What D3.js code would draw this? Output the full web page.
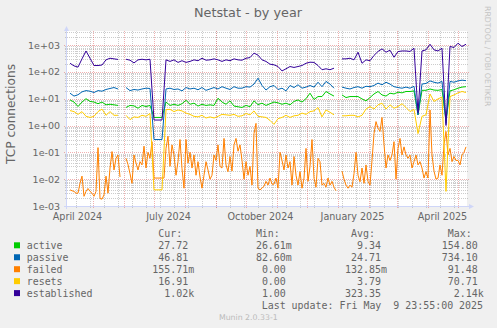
<!DOCTYPE html>
<html><head><meta charset="utf-8">
<script src="https://cdn.jsdelivr.net/npm/d3@7"></script>
<style>
html,body{margin:0;padding:0;background:#f0f0f0;}
svg{display:block;}
text{font-family:"DejaVu Sans",sans-serif;fill:#666666;}
.mono{font-family:"DejaVu Sans Mono",monospace;white-space:pre;}
</style></head><body>
<svg id="chart" width="497" height="328"></svg>
<script>
// ---- data ----
const timeStart = new Date(2024, 3, 4, 23, 55);
const timeEnd = new Date(2025, 4, 9, 23, 55);
const firstSample = new Date(2024, 3, 8);
const sampleStepDays = 4;        // active, passive, resets, established
const failedStepDays = 2;        // failed is sampled more densely

const active = [9,7.5,5.1,7.5,10,7.9,7.5,6.5,7.5,5.9,
 6.2,5.9,5.6,null,4.7,5.6,5.4,4.4,5.6,5.1,
 5.6,2.0,2.0,2.0,7.5,5.6,6.2,5.6,6.5,8.7,
 6.2,6.8,5.3,6.2,5.6,5.9,5.6,10.4,7.5,6.2,
 8.3,5.3,5,4.7,5.6,5,8.3,6,6.8,5.6,
 6.5,7.5,7,6.2,6.8,5.9,7.9,9,7.5,10,
 16,9.3,12,12,18.5,15,12.5,null,13.8,11,
 12,12,12,9.8,8.3,11,15,18.5,13.8,12.5,
 16,15,17.5,16.5,18.5,18.5,19.5,2.5,20.5,20.5,
 23,21,20.5,22,1.5,19.5,21.5,24.6,27,28];

const passive = [16,12.5,14,18,20,19,17,20,19,22,
 24,26,23,null,26,20,22,21,23,24.6,
 24,0.3,0.3,0.3,23,24.6,22,23,19.5,26,
 23,24.6,21.5,26,20.5,23,26,23,28,24.6,
 22,28,24.6,24.6,28,27,35,58,31,21,
 28,31,22,24.6,19.5,31,26,33,24.6,27,
 31,27,41,28,44,35,24.6,null,27,24.6,
 23,26,28,24.6,29,28,31,38,33,41,
 35,28,26,24.6,27,24.6,29,2.5,35,37,
 46,41,38,44,1.2,44,41,46,49,47];

const failed = [0.004,0.0037,0.0035,0.003,0.003,0.007,0.013,0.0023,0.0035,0.0045,
 0.0035,0.003,0.0023,0.0035,0.15,0.0019,0.0018,0.0026,0.013,0.003,
 0.026,0.107,0.022,0.06,0.08,0.012,null,null,0.06,0.035,
 0.016,0.007,0.08,0.04,0.022,0.045,0.034,0.17,0.026,0.1,
 0.06,0.25,0.011,0.011,0.011,0.011,0.011,0.011,0.14,0.4,
 0.03,0.19,0.08,0.014,0.045,0.3,0.025,0.0046,0.3,0.04,
 0.1,0.026,0.08,0.014,0.045,0.012,0.0046,0.014,0.045,0.022,
 0.01,0.014,0.08,0.05,0.19,0.03,0.026,0.33,0.034,0.019,
 0.07,0.02,0.19,0.33,0.11,0.19,0.05,0.01,0.045,0.014,
 0.03,0.006,0.5,1.2,0.0046,0.004,0.0046,0.0055,0.0083,0.006,
 0.011,0.0065,0.0065,0.011,0.0046,0.1,0.05,0.022,0.08,0.026,
 0.045,0.006,0.07,0.014,0.006,0.019,0.0046,0.011,0.14,0.0083,
 0.03,0.3,0.011,0.005,0.06,0.045,0.006,0.007,0.005,0.011,
 0.006,0.0083,0.005,0.0037,null,null,0.02,0.01,0.006,0.0046,
 0.006,0.005,0.016,0.1,0.014,0.008,0.026,0.007,0.034,0.0083,
 0.006,0.05,0.5,1.4,0.8,0.6,2.0,0.2,0.026,0.08,
 0.05,0.08,0.25,0.01,0.14,0.33,0.08,0.16,0.08,0.06,
 0.08,0.026,0.045,0.08,0.034,0.045,0.026,0.011,0.019,0.011,
 3.8,0.08,0.02,0.01,0.011,0.034,0.014,0.2,0.6,0.08,
 0.14,0.045,0.07,0.05,0.05,0.034,0.08,0.1,0.16];

const resets = [3.6,3.3,2.6,3.3,2.2,2.0,2.2,3.3,4.1,2.4,
 3.3,2.4,2.4,null,2.4,1.65,2.1,2.0,2.4,2.2,
 2.8,0.004,0.004,0.004,3.9,4.0,3.3,3.8,3.5,2.9,
 2.6,2.2,2.1,2.4,1.9,2.1,1.9,2.2,2.6,2.5,
 2.4,2.6,2.2,2.3,2.8,2.5,3.5,2.2,2.1,2.0,
 1.55,1.1,1.8,2.0,2.4,2.0,2.3,2.4,2.9,2.6,
 3.3,3.5,4.7,2.1,3.8,3.1,2.5,null,2.3,2.3,
 2.4,2.4,2.1,2.4,4.1,5.1,4.1,5.9,6.8,4.1,
 5.9,4.4,5.1,6.5,4.7,3.3,4.0,0.5,2.2,2.5,
 15,7.9,9.8,11.5,0.0035,12,13.8,16.5,18.5,17];

const established = [209,167,150,305,600,322,172,172,180,280,
 322,305,290,null,295,272,215,280,295,280,
 295,1.6,1.6,1.6,280,245,280,225,260,225,
 245,280,260,322,272,280,305,280,245,280,
 260,305,280,272,322,340,500,420,280,245,
 193,183,158,108,130,158,146,158,172,209,
 229,225,172,120,130,120,137,null,305,305,
 322,280,540,209,280,260,410,575,720,540,
 640,350,570,600,600,575,760,3,600,660,
 1070,660,600,760,1.0,880,810,1170,880,1070];

const seriesNames = ["active","passive","failed","resets","established"];
const seriesColors = ["#00CC00","#0066B3","#FF8000","#FFCC00","#330099"];
const seriesValues = [active, passive, failed, resets, established];
const seriesSteps = [sampleStepDays, sampleStepDays, failedStepDays, sampleStepDays, sampleStepDays];

const legendCur = ["27.72","46.81","155.71m","16.91","1.02k"];
const legendMin = ["26.61m","82.60m","0.00","0.00","1.00"];
const legendAvg = ["9.34","24.71","132.85m","3.79","323.35"];
const legendMax = ["154.80","734.10","91.48","70.71","2.14k"];

const yTickValues = [1e-3,1e-2,1e-1,1,10,100,1000];
const yTickLabels = ["1e-03","1e-02","1e-01","1e+00","1e+01","1e+02","1e+03"];
const xLabelMonths = [new Date(2024,3,1), new Date(2024,6,1), new Date(2024,9,1), new Date(2025,0,1), new Date(2025,3,1)];
const xLabelTexts = ["April 2024","July 2024","October 2024","January 2025","April 2025"];

const titleText = "Netstat - by year";
const unitText = "TCP connections";
const lastUpdateText = "Last update: Fri May  9 23:55:00 2025";
const versionText = "Munin 2.0.33-1";
const sideText = "RRDTOOL / TOBI OETIKER";

// ---- layout ----
const svg = d3.select("#chart");
const P = {left:67, right:467, top:31, bottom:206};
const decadePx = 26.83;
const yTop = Math.pow(10, -3 + (P.bottom - P.top) / decadePx);

const x = d3.scaleTime().domain([timeStart, timeEnd]).range([P.left, P.right]);
const y = d3.scaleLog().domain([1e-3, yTop]).range([P.bottom, P.top]).clamp(true);

svg.append("rect").attr("width",497).attr("height",328).attr("fill","#f0f0f0");
svg.append("rect").attr("x",P.left).attr("y",P.top).attr("width",P.right-P.left).attr("height",P.bottom-P.top).attr("fill","#ffffff");

const grid = svg.append("g").attr("shape-rendering","crispEdges");
const minorCol = "rgba(143,143,143,0.45)";
const majorCol = "rgba(222,79,79,0.45)";

for (let k=-3;k<=3;k++){
  for (let m=2;m<=9;m++){
    const v = m*Math.pow(10,k);
    if (v >= yTop) continue;
    const yy = Math.round(y(v))+0.5;
    grid.append("line").attr("x1",P.left-2).attr("x2",P.right+2).attr("y1",yy).attr("y2",yy)
      .attr("stroke",minorCol).attr("stroke-dasharray","1,1");
  }
}
d3.timeDay.range(new Date(2024,3,14), timeEnd, 14).forEach(d=>{
  const xx = Math.round(x(d))+0.5;
  grid.append("line").attr("x1",xx).attr("x2",xx).attr("y1",P.top).attr("y2",P.bottom+2)
    .attr("stroke",minorCol).attr("stroke-dasharray","1,1");
});
yTickValues.forEach(v=>{
  const yy = Math.round(y(v))+0.5;
  grid.append("line").attr("x1",P.left-3).attr("x2",P.right+3).attr("y1",yy).attr("y2",yy)
    .attr("stroke",majorCol).attr("stroke-dasharray","1,1");
});
d3.timeMonth.range(d3.timeMonth.ceil(timeStart), timeEnd).forEach(d=>{
  const xx = Math.round(x(d))+0.5;
  grid.append("line").attr("x1",xx).attr("x2",xx).attr("y1",P.top).attr("y2",P.bottom+3)
    .attr("stroke",majorCol).attr("stroke-dasharray","1,1");
});

// axes
const axisCol = "#CFD6F8";
svg.append("line").attr("x1",P.left-3).attr("x2",P.right+3).attr("y1",P.bottom+0.5).attr("y2",P.bottom+0.5).attr("stroke",axisCol).attr("shape-rendering","crispEdges");
svg.append("line").attr("x1",P.left-0.5).attr("x2",P.left-0.5).attr("y1",P.bottom+3).attr("y2",P.top-2).attr("stroke",axisCol).attr("shape-rendering","crispEdges");
svg.append("path").attr("d",`M${P.right+2},${P.bottom-2} L${P.right+7},${P.bottom+0.5} L${P.right+2},${P.bottom+3} Z`).attr("fill",axisCol);
svg.append("path").attr("d",`M${P.left-3},${P.top} L${P.left-0.5},${P.top-5} L${P.left+2},${P.top} Z`).attr("fill",axisCol);

// series
const line = d3.line().defined(d=>d.v!=null).x(d=>x(d.t)).y(d=>y(d.v));
const lines = svg.append("g");
seriesValues.forEach((vals,si)=>{
  const pts = vals.map((v,i)=>({t:d3.timeDay.offset(firstSample, i*seriesSteps[si]), v:v}));
  lines.append("path").attr("d",line(pts)).attr("fill","none")
    .attr("stroke",seriesColors[si]).attr("stroke-width",1).attr("stroke-linejoin","round");
});

// y labels
yTickValues.forEach((v,i)=>{
  svg.append("text").attr("x",60).attr("y",y(v)+3.5).attr("text-anchor","end")
    .attr("font-size","9.5px").text(yTickLabels[i]);
});
// x labels
xLabelMonths.forEach((d,i)=>{
  const c = new Date(d.getTime() + 14.5*864e5);
  svg.append("text").attr("x",x(c)).attr("y",220).attr("text-anchor","middle")
    .attr("font-size","9.6px").text(xLabelTexts[i]);
});

// title, unit, side
svg.append("text").attr("x",248).attr("y",17).attr("text-anchor","middle").attr("font-size","12.8px").text(titleText);
svg.append("text").attr("transform","translate(15,114) rotate(-90)").attr("text-anchor","middle").attr("font-size","12.2px").text(unitText);
svg.append("text").attr("transform","translate(485,6) rotate(90)").attr("text-anchor","start").attr("font-size","7.8px").style("fill","#c4c4c4").text(sideText);

// legend
const fs = 9.95, cw = 0.602*fs;
const rowY0 = 249.3, rowH = 11.95;
const cols = [152.3, 249.9, 345.0, 441.7];
const headers = ["Cur:","Min:","Avg:","Max:"];
headers.forEach((h,i)=>{
  svg.append("text").attr("class","mono").attr("x",cols[i]+cw).attr("y",237).attr("font-size",fs+"px").text(h);
});
const colData = [legendCur, legendMin, legendAvg, legendMax];
seriesNames.forEach((n,r)=>{
  const yy = rowY0 + r*rowH;
  svg.append("rect").attr("x",14).attr("y",yy-7).attr("width",6).attr("height",6).attr("fill",seriesColors[r]);
  svg.append("text").attr("class","mono").attr("x",26.7).attr("y",yy).attr("font-size",fs+"px").text(n);
  colData.forEach((arr,ci)=>{
    const s = arr[r];
    const last = s[s.length-1];
    const hasSuf = /[a-zA-Z]/.test(last);
    const num = hasSuf ? s.slice(0,-1) : s;
    const xr = cols[ci] + 6*cw;
    svg.append("text").attr("class","mono").attr("x",xr).attr("y",yy).attr("text-anchor","end").attr("font-size",fs+"px").text(num);
    if (hasSuf) svg.append("text").attr("class","mono").attr("x",xr).attr("y",yy).attr("font-size",fs+"px").text(last);
  });
});
svg.append("text").attr("class","mono").attr("xml:space","preserve").attr("x",261.7).attr("y",309.3).attr("font-size",fs+"px").text(lastUpdateText);
svg.append("text").attr("x",248.3).attr("y",320).attr("text-anchor","middle").attr("font-size","7.8px").style("fill","#bbbbbb").text(versionText);
</script>
</body></html>
